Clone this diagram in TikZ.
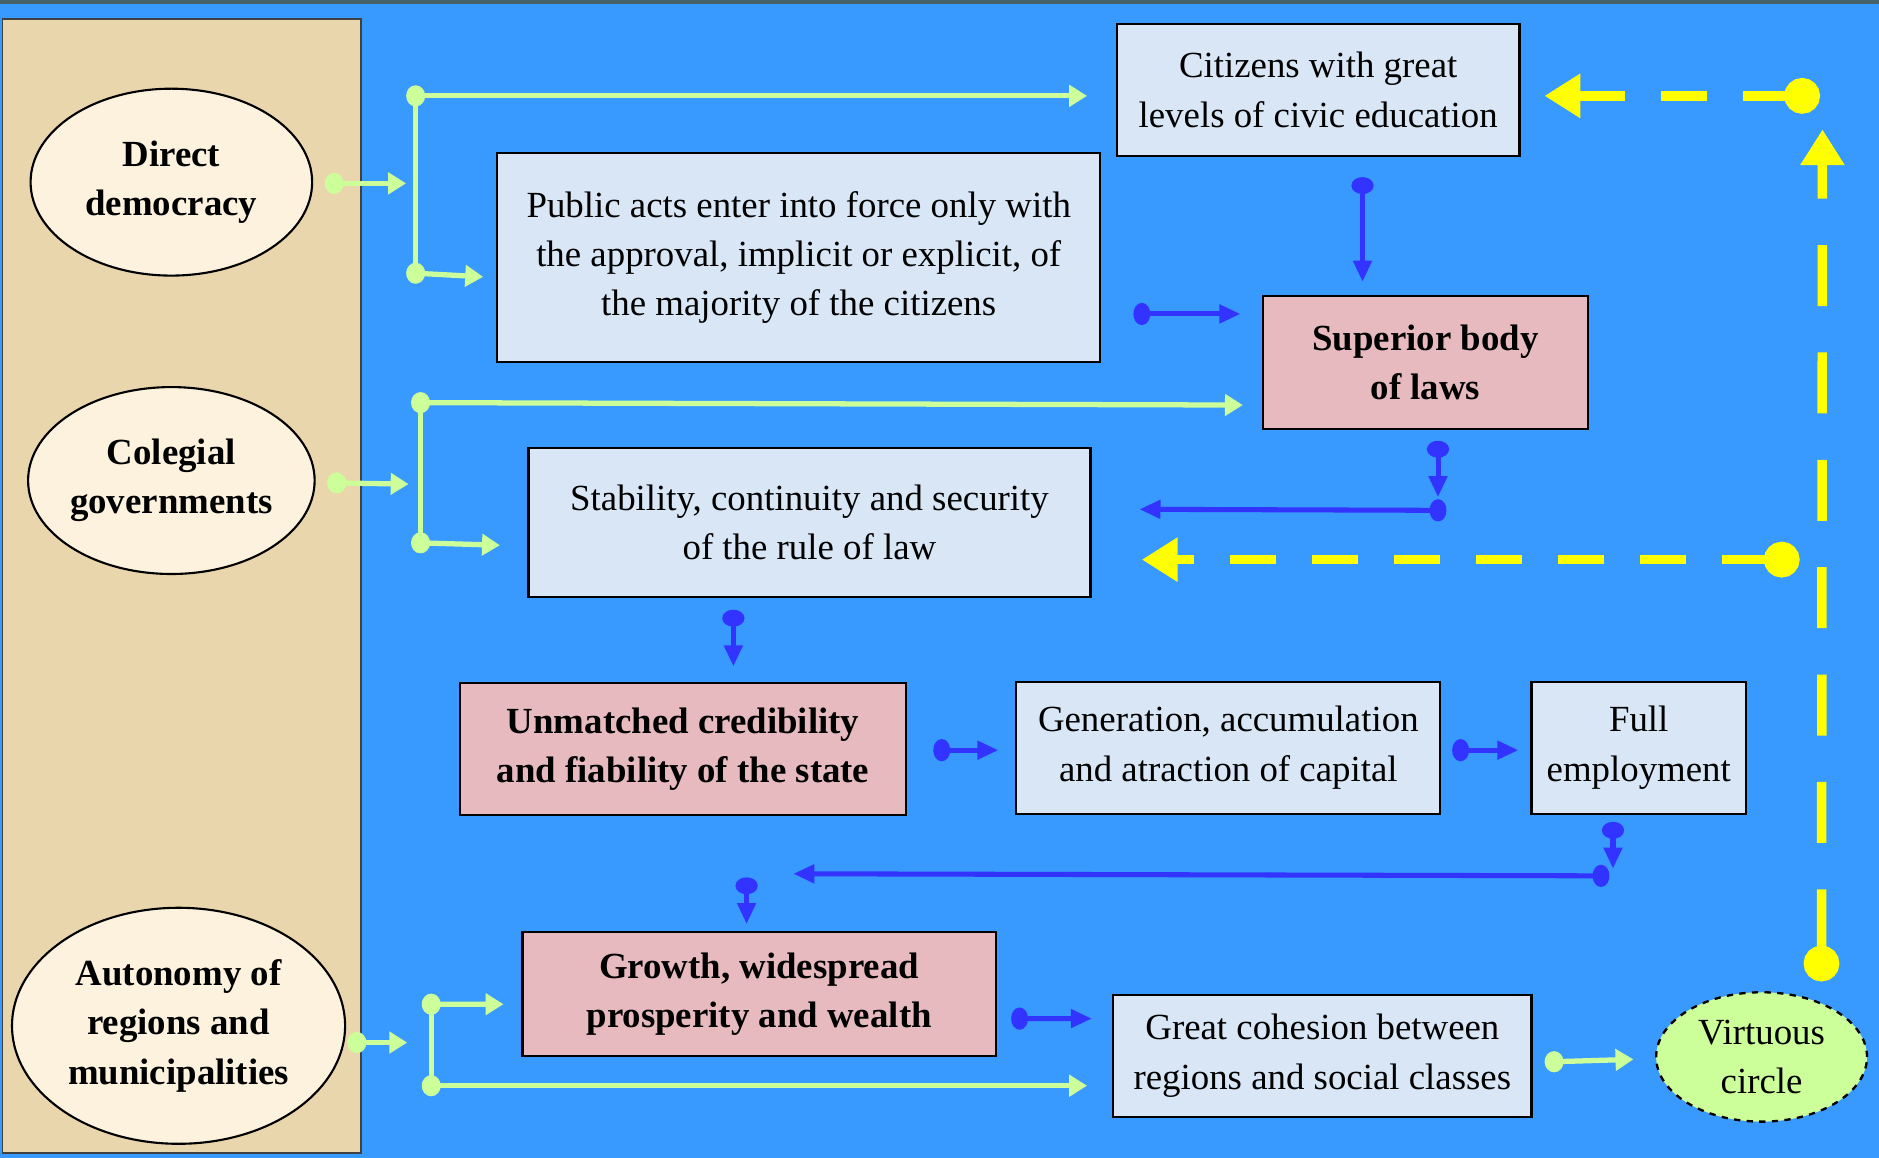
\documentclass[tikz,border=0pt]{standalone}
\usepackage{fontspec}
\setmainfont{Liberation Serif}
\usetikzlibrary{arrows.meta,shapes.geometric,calc}
\definecolor{sky}{RGB}{56,153,255}
\definecolor{rim}{RGB}{72,98,108}
\definecolor{sand}{RGB}{234,214,172}
\definecolor{cream}{RGB}{252,242,221}
\definecolor{icebox}{RGB}{216,230,246}
\definecolor{rosebox}{RGB}{230,186,190}
\definecolor{lime}{RGB}{204,255,153}
\definecolor{ink}{RGB}{51,51,255}
\definecolor{sun}{RGB}{255,255,0}
\newcommand\dfont{\fontsize{17.5}{23.4}\selectfont}
\tikzset{
  lbox/.style={draw=black, line width=1pt, fill=icebox, align=center, inner sep=0pt, font=\dfont},
  pbox/.style={lbox, fill=rosebox, font=\dfont\bfseries},
  oval/.style={ellipse, draw=black, line width=1pt, fill=cream, align=center, inner sep=0pt, font=\dfont\bfseries},
  gline/.style={draw=lime, line width=2.5pt},
  glink/.style={gline, shorten <=-4.5pt, {Circle[length=9pt,width=10pt]}-{Triangle[length=8.5pt,width=10pt]}},
  blink/.style={draw=ink, line width=2.4pt, shorten <=-4pt, {Circle[length=8pt,width=10.5pt]}-{Triangle[length=10pt,width=8.5pt]}},
  ylink/.style={draw=sun, line width=4.5pt, shorten <=-8.5pt, {Circle[length=17pt]}-{Triangle[length=17pt,width=20pt]}}
}
\begin{document}
\begin{tikzpicture}[x=0.02cm, y=-0.02cm]
  \useasboundingbox (0,0) rectangle (1568,966);
  \fill[sky] (0,0) rectangle (1568,966);
  \fill[rim] (0,0) rectangle (1568,3);
  \filldraw[fill=sand, draw=black!75, line width=0.8pt] (2,16) rectangle (301,962);

  \node[oval, minimum width=4.7cm, minimum height=3.12cm] (dd) at (143,152) {Direct\\democracy};
  \node[oval, minimum width=4.7cm, minimum height=3.12cm] (cg) at (143,401) {Colegial\\governments};
  \node[oval, minimum width=5.56cm, minimum height=3.94cm] (aut) at (149,856) {Autonomy of\\regions and\\municipalities};

  \node[lbox, minimum width=6.72cm, minimum height=2.2cm] (cit) at (1100,75) {Citizens with great\\levels of civic education};
  \node[lbox, minimum width=10.06cm, minimum height=3.48cm] (pub) at (666.5,215) {Public acts enter into force only with\\the approval, implicit or explicit, of\\the majority of the citizens};
  \node[pbox, minimum width=5.42cm, minimum height=2.22cm] (sup) at (1189.5,302.5) {Superior body\\of laws};
  \node[lbox, minimum width=9.38cm, minimum height=2.48cm] (stab) at (675.5,436) {Stability, continuity and security\\of the rule of law};
  \node[pbox, minimum width=7.44cm, minimum height=2.2cm] (unm) at (570,625) {Unmatched credibility\\and fiability of the state};
  \node[lbox, minimum width=7.08cm, minimum height=2.2cm] (gen) at (1025,624) {Generation, accumulation\\and atraction of capital};
  \node[lbox, minimum width=3.58cm, minimum height=2.2cm] (full) at (1367.5,624) {Full\\employment};
  \node[pbox, minimum width=7.9cm, minimum height=2.06cm] (grow) at (633.5,829.5) {Growth, widespread\\prosperity and wealth};
  \node[lbox, minimum width=6.98cm, minimum height=2.04cm] (coh) at (1103.5,881) {Great cohesion between\\regions and social classes};
  \node[ellipse, draw=black, dashed, line width=1.1pt, fill=lime, align=center, inner sep=0pt, font=\dfont,
        minimum width=3.52cm, minimum height=2.16cm] (vir) at (1470,882) {Virtuous\\circle};

  \coordinate (j1t) at ($(dd.east)+(85.5,-72)$);
  \coordinate (j1b) at ($(dd.east)+(85.5,76)$);
  \coordinate (j2t) at ($(cg.east)+(87.5,-65)$);
  \coordinate (j2b) at ($(cg.east)+(87.5,52)$);
  \coordinate (j3t) at ($(aut.east)+(71,-18)$);
  \coordinate (j3b) at ($(aut.east)+(71,50)$);

  \draw[glink] ($(dd.east)+(17.5,1)$) -- ($(dd.east)+(77.5,1)$);
  \draw[gline] (j1t) -- (j1b);
  \draw[glink] (j1t) -- ($(cit.west)+(-24,5)$);
  \draw[glink] (j1b) -- ($(pub.west)+(-11,16)$);
  \draw[glink] ($(cg.east)+(17.5,2)$) -- ($(cg.east)+(77.5,3)$);
  \draw[gline] (j2t) -- (j2b);
  \draw[glink] (j2t) -- ($(sup.west)+(-16,35.5)$);
  \draw[glink] (j2b) -- ($(stab.west)+(-23,19)$);
  \draw[glink] ($(aut.east)+(9,14)$) -- ($(aut.east)+(51,14)$);
  \draw[gline] (j3t) -- (j3b);
  \draw[glink] (j3t) -- ($(grow.west)+(-15,8.5)$);
  \draw[glink] (j3b) -- ($(coh.west)+(-21,25)$);
  \draw[glink] ($(coh.east)+(18,5)$) -- ($(vir.west)+(-18,2)$);

  \draw[blink] ($(cit.south)+(37,24)$) -- ($(sup.north)+(-52.5,-11)$);
  \draw[blink] ($(pub.east)+(34,47)$) -- ($(sup.west)+(-18,-40.5)$);
  \draw[blink] ($(sup.south)+(10.5,16)$) -- ($(sup.south)+(10.5,56)$);
  \draw[blink] ($(sup.south)+(10.5,67)$) -- ($(stab.east)+(40,-11)$);
  \draw[blink] ($(stab.south)+(-63.5,17)$) -- ($(unm.north)+(42,-13)$);
  \draw[blink] ($(unm.east)+(29,1)$) -- ($(gen.west)+(-14,2)$);
  \draw[blink] ($(gen.east)+(16,2)$) -- ($(full.west)+(-10,2)$);
  \draw[blink] ($(full.south)+(-21.5,13)$) -- ($(full.south)+(-21.5,45)$);
  \draw[blink] ($(full.south)+(-31.5,51)$) -- ($(grow.north)+(28.5,-48)$);
  \draw[blink] ($(grow.north)+(-10.5,-38)$) -- ($(grow.north)+(-10.5,-6)$);
  \draw[blink] ($(grow.east)+(19,20.5)$) -- ($(coh.west)+(-17,-31)$);

  \draw[ylink, dash pattern=on 29pt off 22pt] ($(vir.north)+(50,-23)$) -- ($(cit.east)+(252,33)$);
  \draw[ylink, dash pattern=on 22pt off 17pt] ($(cit.east)+(235,5)$) -- ($(cit.east)+(20,5)$);
  \draw[ylink, dash pattern=on 22pt off 17pt] ($(stab.east)+(576,31)$) -- ($(stab.east)+(42,31)$);
\end{tikzpicture}
\end{document}
